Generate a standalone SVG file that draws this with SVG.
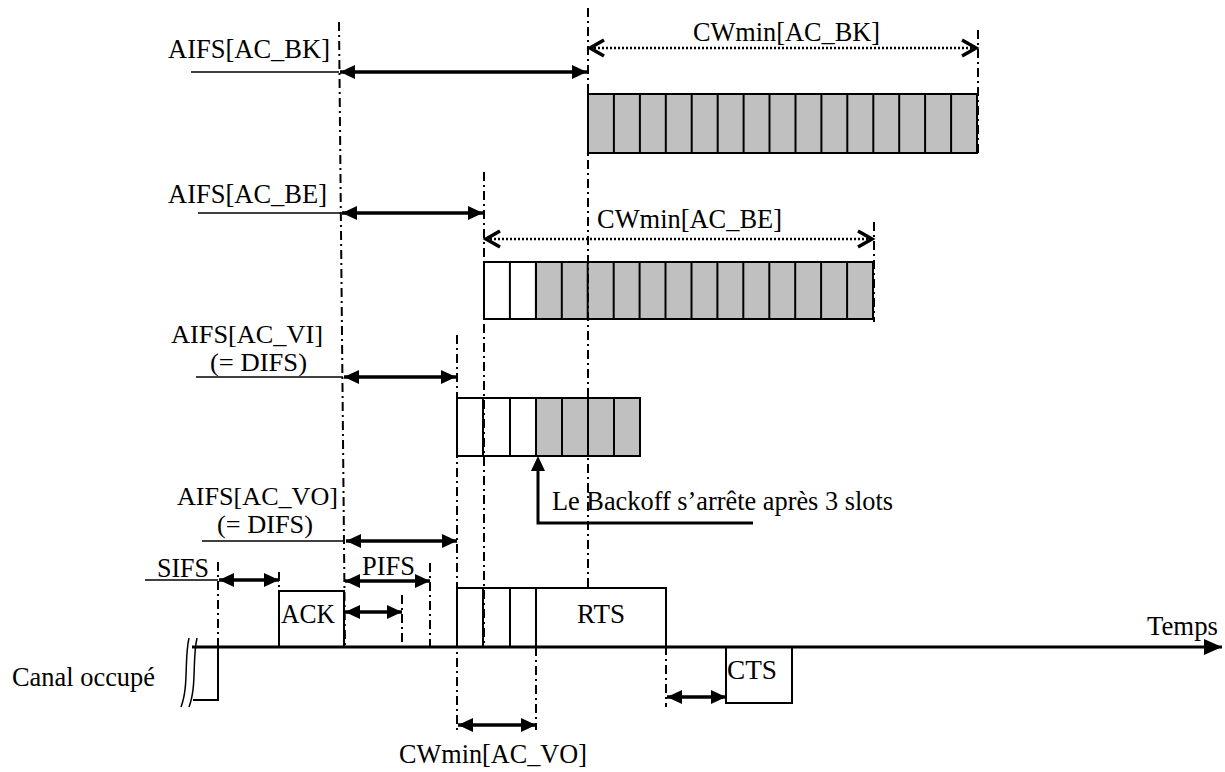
<svg xmlns="http://www.w3.org/2000/svg" width="1225" height="772" viewBox="0 0 1225 772">
<style>
text{font-family:"Liberation Serif","Times New Roman",serif;font-size:28px;fill:#000}
.sm{font-size:25px}
.dd{stroke:#000;stroke-width:2;stroke-dasharray:9 4 2 4;fill:none}
.thin{stroke:#000;stroke-width:1.5;fill:none}
.thick{stroke:#000;stroke-width:3.5;fill:none;marker-start:url(#ah);marker-end:url(#ah)}
.dot{stroke:#000;stroke-width:2.5;stroke-dasharray:2 2;fill:none;marker-start:url(#oh);marker-end:url(#oh)}
.box{stroke:#000;stroke-width:2;fill:#fff}
.grey{stroke:#000;stroke-width:2;fill:#c0c0c0}
.div{stroke:#000;stroke-width:2;fill:none}
</style>
<defs>
<marker id="ah" markerUnits="userSpaceOnUse" markerWidth="16" markerHeight="14" refX="15" refY="7" orient="auto-start-reverse" overflow="visible"><path d="M0,0 L15,7 L0,14 z" fill="#000"/></marker>
<marker id="oh" markerUnits="userSpaceOnUse" markerWidth="16" markerHeight="18" refX="15" refY="9" orient="auto-start-reverse" overflow="visible"><path d="M1,1 L15,9 L1,17" fill="none" stroke="#000" stroke-width="3.5"/></marker>
<marker id="ax" markerUnits="userSpaceOnUse" markerWidth="20" markerHeight="18" refX="18" refY="8" orient="auto" overflow="visible"><path d="M0,0 L18,8 L0,16 z" fill="#000"/></marker>
</defs>

<g id="ac-bk">
<rect class="grey" x="588" y="94" width="389" height="59"/>
<path class="div" d="M613.9,94V153M639.9,94V153M665.8,94V153M691.7,94V153M717.7,94V153M743.6,94V153M769.5,94V153M795.5,94V153M821.4,94V153M847.3,94V153M873.3,94V153M899.2,94V153M925.1,94V153M951.1,94V153"/>
<text x="168" y="58" textLength="162" lengthAdjust="spacingAndGlyphs">AIFS[AC_BK]</text>
<text x="693" y="41" textLength="187" lengthAdjust="spacingAndGlyphs">CWmin[AC_BK]</text>
</g>

<g id="ac-be">
<rect class="grey" x="484" y="262" width="389" height="57"/>
<rect class="box" x="484" y="262" width="52" height="57"/>
<path class="div" d="M509.9,262V319M535.9,262V319M561.8,262V319M587.7,262V319M613.7,262V319M639.6,262V319M665.5,262V319M691.5,262V319M717.4,262V319M743.3,262V319M769.3,262V319M795.2,262V319M821.1,262V319M847.1,262V319"/>
<text x="168" y="203" textLength="159" lengthAdjust="spacingAndGlyphs">AIFS[AC_BE]</text>
<text x="597" y="228" textLength="185" lengthAdjust="spacingAndGlyphs">CWmin[AC_BE]</text>
</g>

<g id="ac-vi">
<rect class="grey" x="457" y="398" width="183" height="58"/>
<rect class="box" x="457" y="398" width="79" height="58"/>
<path class="div" d="M483,398V456M510,398V456M562,398V456M588,398V456M614,398V456"/>
<text class="sm" x="171" y="343" textLength="152" lengthAdjust="spacingAndGlyphs">AIFS[AC_VI]</text>
<text class="sm" x="210" y="371" textLength="97" lengthAdjust="spacingAndGlyphs">(= DIFS)</text>
</g>

<g id="ac-vo">
<text class="sm" x="177" y="505" textLength="161" lengthAdjust="spacingAndGlyphs">AIFS[AC_VO]</text>
<text class="sm" x="217" y="533" textLength="96" lengthAdjust="spacingAndGlyphs">(= DIFS)</text>
</g>

<g id="backoff-note">
<text x="552" y="510" textLength="341" lengthAdjust="spacingAndGlyphs">Le Backoff s’arrête après 3 slots</text>
</g>

<g id="sifs"><text x="157" y="577" textLength="52" lengthAdjust="spacingAndGlyphs">SIFS</text></g>
<g id="pifs"><text x="362" y="575" textLength="53" lengthAdjust="spacingAndGlyphs">PIFS</text></g>

<g id="ack">
<rect class="box" x="279" y="591" width="65" height="56"/>
<text x="281" y="623" textLength="54" lengthAdjust="spacingAndGlyphs">ACK</text>
</g>

<g id="rts">
<rect class="box" x="457" y="588" width="209" height="59"/>
<path class="div" d="M483,588V647M510,588V647M536,588V647"/>
<text x="577" y="623" textLength="48" lengthAdjust="spacingAndGlyphs">RTS</text>
</g>

<g id="cts">
<rect class="box" x="726" y="647" width="66" height="56"/>
<text x="727" y="679" textLength="50" lengthAdjust="spacingAndGlyphs">CTS</text>
</g>

<g id="canal">
<path class="div" d="M193,700H218V647"/>
<path stroke="#000" stroke-width="1.5" fill="none" d="M197,638 C192,660 197,686 189,707 M189,638 C184,660 189,686 181,707"/>
<text x="12" y="686" textLength="143" lengthAdjust="spacingAndGlyphs">Canal occupé</text>
</g>

<g id="axis">
<line x1="192" y1="647" x2="1222" y2="647" stroke="#000" stroke-width="3" marker-end="url(#ax)"/>
<text x="1147" y="635" textLength="71" lengthAdjust="spacingAndGlyphs">Temps</text>
</g>

<g id="cwmin-vo"><text x="399" y="763" textLength="188" lengthAdjust="spacingAndGlyphs">CWmin[AC_VO]</text></g>

<g id="connectors">
<path class="dd" d="M339,22L345,647"/>
<path class="dd" d="M588,8V588"/>
<path class="dd" d="M978,30V155"/>
<path class="dd" d="M484,172V647"/>
<path class="dd" d="M874,222V322"/>
<path class="dd" d="M457,335V732"/>
<path class="dd" d="M536,647V730"/>
<path class="dd" d="M666,627V707"/>
<path class="dd" d="M218,562V647"/>
<path class="dd" d="M279,572V647"/>
<path class="dd" d="M402,595V647"/>
<path class="dd" d="M430,563V647"/>

<path class="thin" d="M191,72H339"/>
<path class="thick" d="M340,72H587"/>
<path class="dot" d="M590,48H976"/>

<path class="thin" d="M198,213H341"/>
<path class="thick" d="M342,213H483"/>
<path class="dot" d="M486,239H872"/>

<path class="thin" d="M196,377H343"/>
<path class="thick" d="M344,377H456"/>

<path class="thin" d="M202,541H345"/>
<path class="thick" d="M346,541H457"/>

<path class="thin" d="M145,580H218"/>
<path class="thick" d="M219,580H279"/>
<path class="thick" d="M345,581H430"/>
<path class="thick" d="M345,612H402"/>

<path d="M753,523H538V470" stroke="#000" stroke-width="3" fill="none"/>
<path d="M538,456L531,471H545z" fill="#000"/>

<path class="thick" d="M667,697H726"/>
<path class="thick" d="M458,725H536"/>
</g>
</svg>
